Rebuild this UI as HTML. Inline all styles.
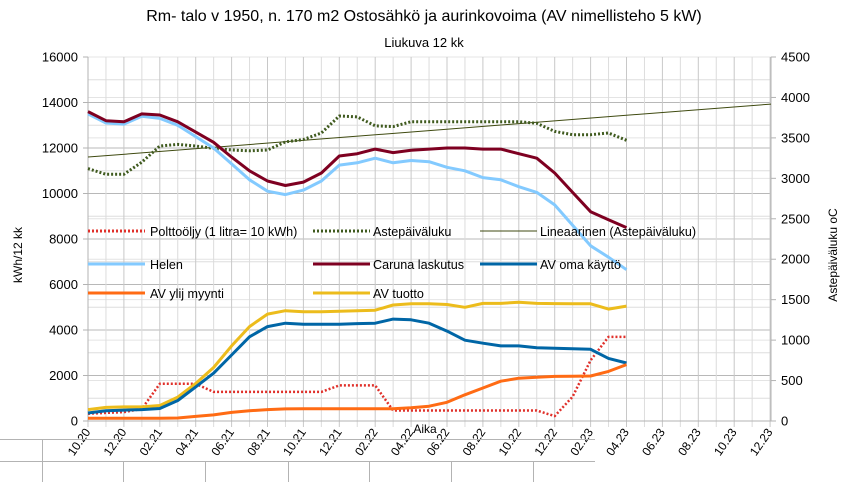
<!DOCTYPE html>
<html><head><meta charset="utf-8"><style>
body{margin:0;background:#fff;}
svg{display:block;font-family:"Liberation Sans",sans-serif;}
</style></head><body>
<svg id="s" width="848" height="482" viewBox="0 0 848 482" xmlns="http://www.w3.org/2000/svg">
<rect width="848" height="482" fill="#fff"/>
<text x="424" y="21" font-size="16" text-anchor="middle">Rm- talo v 1950, n. 170 m2 Ostosähkö ja aurinkovoima (AV nimellisteho 5 kW)</text>
<text x="424" y="47" font-size="13" text-anchor="middle">Liukuva 12 kk</text>
<g id="grid"></g>
<g id="series"></g>
<g id="legend" font-size="12.6">
<line x1="88" y1="231" x2="145" y2="231" stroke="#e0302a" stroke-width="3" stroke-dasharray="2,2"/>
<text x="150" y="236">Polttoöljy (1 litra= 10 kWh)</text>
<line x1="313" y1="231" x2="370" y2="231" stroke="#3f5a1e" stroke-width="3" stroke-dasharray="2,2"/>
<text x="373" y="236">Astepäiväluku</text>
<line x1="480" y1="231" x2="537" y2="231" stroke="#3f4a10" stroke-width="1"/>
<text x="540" y="236">Lineaarinen (Astepäiväluku)</text>
<line x1="88" y1="264" x2="145" y2="264" stroke="#83caff" stroke-width="3"/>
<text x="150" y="269">Helen</text>
<line x1="313" y1="264" x2="370" y2="264" stroke="#7e0021" stroke-width="3"/>
<text x="373" y="269">Caruna laskutus</text>
<line x1="480" y1="264" x2="537" y2="264" stroke="#0066a6" stroke-width="3"/>
<text x="540" y="269">AV oma käyttö</text>
<line x1="88" y1="293" x2="145" y2="293" stroke="#ff6b14" stroke-width="3"/>
<text x="150" y="298">AV ylij myynti</text>
<line x1="313" y1="293" x2="370" y2="293" stroke="#ecbc1c" stroke-width="3"/>
<text x="373" y="298">AV tuotto</text>
</g>
<text x="425" y="433" font-size="12" text-anchor="middle">Aika</text>
<text transform="translate(22,255) rotate(-90)" font-size="12" text-anchor="middle">kWh/12 kk</text>
<text transform="translate(837,255) rotate(-90)" font-size="12" text-anchor="middle">Astepäiväluku oC</text>
<g id="xl" font-size="12"></g>
<g stroke="#b3b3b3" stroke-width="1">
<line x1="0" y1="439.5" x2="595" y2="439.5"/>
<line x1="0" y1="461.5" x2="595" y2="461.5"/>
<line x1="42.5" y1="439" x2="42.5" y2="482"/>
<line x1="123.5" y1="461" x2="123.5" y2="482"/>
<line x1="205.5" y1="461" x2="205.5" y2="482"/>
<line x1="288.5" y1="461" x2="288.5" y2="482"/>
<line x1="369.5" y1="461" x2="369.5" y2="482"/>
<line x1="451.5" y1="461" x2="451.5" y2="482"/>
<line x1="533.5" y1="461" x2="533.5" y2="482"/>
</g>
</svg>
<script>
var NS="http://www.w3.org/2000/svg";
function el(p,t,a,txt){var e=document.createElementNS(NS,t);for(var k in a)e.setAttribute(k,a[k]);if(txt!=null)e.textContent=txt;document.getElementById(p).appendChild(e);return e;}
var X0=88,DX=17.95,Y0=421,L=364/16000,R=364/4500;
for(var v=0;v<=16000;v+=1000){var y=Y0-v*L;el("grid","line",{x1:88,x2:771,y1:y,y2:y,stroke:v%2000?"#dddddd":"#b8b8b8","stroke-width":1});}
for(var v=500;v<=4500;v+=500){var y=Y0-v*R;el("grid","line",{x1:88,x2:771,y1:y,y2:y,stroke:"#e4e4e4","stroke-width":1});}
for(var i=0;i<=38;i++){var x=X0+i*DX;el("grid","line",{x1:x,x2:x,y1:57,y2:427,stroke:i%2?"#dcdcdc":"#c8c8c8","stroke-width":1});}
el("grid","line",{x1:88,x2:88,y1:57,y2:421,stroke:"#b3b3b3"});
el("grid","line",{x1:771,x2:771,y1:57,y2:421,stroke:"#b3b3b3"});
el("grid","line",{x1:88,x2:771,y1:421,y2:421,stroke:"#b3b3b3"});
for(var v=0;v<=16000;v+=2000){var y=Y0-v*L;el("grid","line",{x1:83,x2:88,y1:y,y2:y,stroke:"#b3b3b3"});el("grid","text",{x:78,y:y+4.5,"font-size":13,"text-anchor":"end"},v);}
for(var v=0;v<=4500;v+=500){var y=Y0-v*R;el("grid","line",{x1:771,x2:776,y1:y,y2:y,stroke:"#b3b3b3"});el("grid","text",{x:781,y:y+4.5,"font-size":13},v);}
var labs=["10.20","12.20","02.21","04.21","06.21","08.21","10.21","12.21","02.22","04.22","06.22","08.22","10.22","12.22","02.23","04.23","06.23","08.23","10.23","12.23"];
labs.forEach(function(l,k){var x=X0+2*k*DX;el("xl","text",{transform:"translate("+(x+3)+",432) rotate(-55)","text-anchor":"end"},l);});
function pts(d,sc){return d.map(function(v,i){return (X0+i*DX).toFixed(1)+","+(Y0-v*sc).toFixed(1);}).join(" ");}
function line(d,sc,c,w,da){var a={points:pts(d,sc),fill:"none",stroke:c,"stroke-width":w,"stroke-linejoin":"round"};if(da)a["stroke-dasharray"]=da;el("series","polyline",a);}
var helen=[13500,13100,13050,13400,13300,13000,12500,12000,11300,10600,10100,9950,10150,10550,11250,11350,11550,11350,11450,11400,11150,11000,10700,10600,10300,10050,9500,8600,7700,7200,6650];
var caruna=[13600,13200,13150,13500,13450,13150,12700,12250,11600,11000,10550,10350,10500,10900,11650,11750,11950,11800,11900,11950,12000,12000,11950,11950,11750,11550,10900,10050,9200,8850,8500];
var aste=[3120,3050,3050,3200,3400,3420,3400,3370,3350,3340,3350,3450,3480,3560,3770,3760,3650,3640,3700,3700,3700,3700,3700,3700,3700,3680,3580,3540,3540,3560,3470];
var oil=[90,100,110,150,460,460,460,360,360,360,360,360,360,360,440,440,440,130,130,130,130,130,130,130,130,130,60,300,750,1040,1040];
var oma=[350,450,480,500,550,900,1500,2100,2900,3700,4150,4300,4250,4250,4250,4280,4300,4480,4450,4300,3950,3550,3420,3300,3300,3220,3200,3180,3150,2750,2550];
var tuotto=[500,600,620,620,680,1050,1650,2350,3300,4150,4700,4850,4800,4800,4820,4850,4870,5100,5150,5150,5120,5000,5170,5170,5220,5170,5160,5150,5150,4920,5050];
var myynti=[120,120,120,120,125,130,200,270,380,450,500,530,540,540,540,540,540,540,580,650,820,1150,1450,1750,1880,1920,1960,1970,1980,2180,2480];
el("series","line",{x1:88,y1:Y0-3263*R,x2:771,y2:Y0-3918*R,stroke:"#3f4a10","stroke-width":1});
line(oil,R,"#e0302a",2.5,"2,2");
line(aste,R,"#3f5a1e",3,"2,2");
line(helen,L,"#83caff",3);
line(caruna,L,"#7e0021",3);
line(tuotto,L,"#ecbc1c",3);
line(oma,L,"#0066a6",3);
line(myynti,L,"#ff6b14",3);
</script>
</body></html>
